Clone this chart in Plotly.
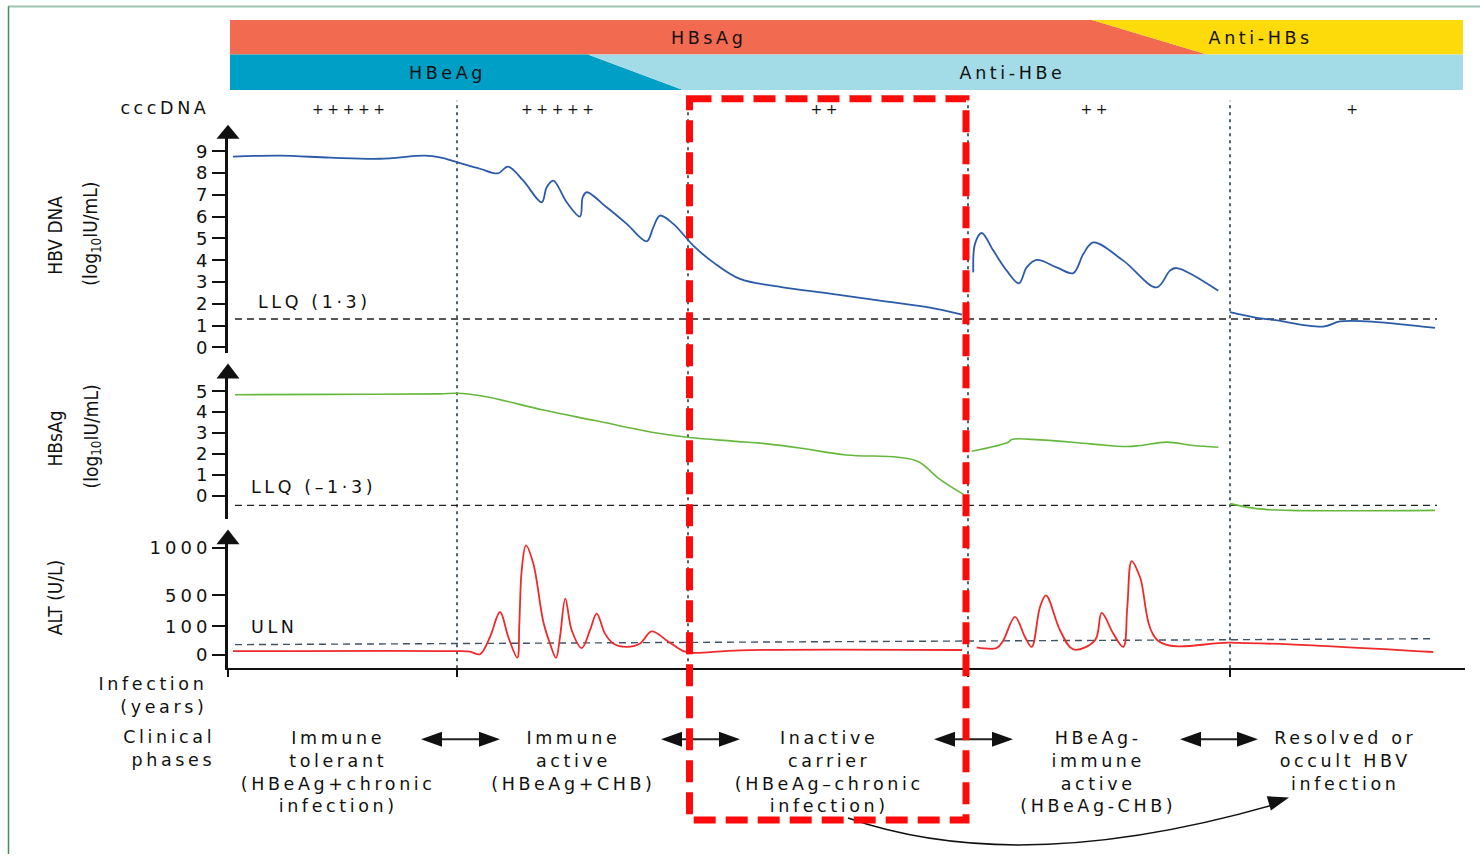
import numpy as np
import plotly.graph_objects as go

W, H = 1480, 859

# ---------------- data ----------------
# time runs in arbitrary units since infection
phase_bounds = [229, 460, 740, 1002]
x_tick_vals = [0, 229, 460, 740, 1002]
ref_line_t = [7, 1209]

# HBV DNA (log10 IU/mL)
hbv_t_a = [5, 52, 102, 152, 197, 212, 229, 252, 270, 280, 295.3, 313.7, 318.7, 325.3, 338.7, 352,
           354.7, 358.7, 378.7, 398.7, 418.7, 425.3, 432, 445.3, 465.3, 485.3, 512, 552, 602, 652, 702, 734]
hbv_v_a = [8.76, 8.80, 8.71, 8.66, 8.80, 8.72, 8.50, 8.20, 7.99, 8.30, 7.65, 6.66, 7.35, 7.65, 6.66, 6.00,
           6.89, 7.12, 6.43, 5.67, 4.87, 5.51, 6.05, 5.67, 4.67, 3.90, 3.14, 2.78, 2.46, 2.14, 1.82, 1.50]
hbv_t_b = [745.3, 747, 753.7, 765.3, 778.7, 791, 798.7, 808.7, 828.7, 845.3, 855.3, 865.3, 895.3, 928.7, 942, 948.7, 990.3]
hbv_v_b = [3.44, 4.75, 5.25, 4.44, 3.52, 2.94, 3.67, 4.01, 3.67, 3.41, 4.28, 4.82, 3.98, 2.75, 3.52, 3.64, 2.60]
hbv_t_c = [1002, 1028.7, 1045.3, 1095.3, 1112, 1138.7, 1207]
hbv_v_c = [1.61, 1.35, 1.26, 0.95, 1.19, 1.19, 0.89]
hbv_llq = 1.3

# HBsAg (log10 IU/mL)
hbs_t_a = [7, 100, 212, 228.5, 256.8, 315.3, 367, 425.5, 461.7, 504.7, 539.1, 573.6, 618.3, 670, 690.6, 711.3, 735.4]
hbs_v_a = [4.83, 4.85, 4.87, 4.90, 4.75, 4.10, 3.60, 3.03, 2.79, 2.62, 2.49, 2.28, 1.96, 1.85, 1.64, 0.82, 0.08]
hbs_t_b = [743.7, 780.3, 783.7, 812, 862, 898.7, 912, 938.7, 965.3, 990.3]
hbs_v_b = [2.14, 2.57, 2.70, 2.68, 2.49, 2.36, 2.41, 2.57, 2.41, 2.33]
hbs_t_c = [1002, 1028.7, 1062, 1207]
hbs_v_c = [-0.36, -0.60, -0.68, -0.68]
hbs_llq = -0.445

# ALT (U/L)
alt_t_a = [5, 229, 242, 252, 262, 272, 280.3, 289.3, 291.3, 293.7, 298, 305.3, 315.3, 322, 328, 332, 337.3,
           343.7, 353.7, 362, 368.7, 377, 385.3, 398.7, 412, 423.7, 438.7, 455.3, 465.3, 512, 734]
alt_u_a = [12, 12, 10, 1, 62, 284, 62, -11, 119, 764, 1028, 835, 159, 39, -12, 62, 458,
           86, 23, 86, 264, 74, 39, 27, 39, 82, 50, 12, 6, 15, 16]
alt_t_b = [748.7, 768.7, 775.3, 787, 797, 803.7, 812, 818, 832, 845.3, 867, 873.7, 885.3, 895.3, 899.3, 903.7, 912, 930.3, 1002, 1062, 1205.3]
alt_u_b = [25, 23, 50, 220, 62, 27, 349, 500, 86, 18, 50, 272, 74, 27, 349, 862, 693, 48, 42, 36, 9]
uln_t = [7, 1207]
uln_u = [35, 56]

# ALT axis is non-linear: tick values and their display positions
alt_tick_u = [0, 100, 500, 1000]
alt_tick_pos = [0, 1, 2.095, 3.767]

cccdna_labels = ["+++++", "+++++", "++", "++", "+"]
cccdna_x = [350, 559, 825, 1095, 1354]

phase_text = ["Immune<br>tolerant<br>(HBeAg+chronic<br>infection)",
              "Immune<br>active<br>(HBeAg+CHB)",
              "Inactive<br>carrier<br>(HBeAg–chronic<br>infection)",
              "HBeAg-<br>immune<br>active<br>(HBeAg-CHB)",
              "Resolved or<br>occult HBV<br>infection"]
phase_x = [338, 573, 829, 1098, 1345]


def alt_scale(u):
    return np.interp(u, [-100] + alt_tick_u + [2000], [-1] + alt_tick_pos + [7.11])


# ---------------- helpers (page pixels -> paper) ----------------
VK = 1 / 0.9883   # vertical calibration of the photographed page


def X(px):
    return px / W


def Y(py, clamp=True):
    yd = 429.5 + (py - 429.5) * VK
    if clamp:
        yd = min(max(yd, 0.5), H - 0.5)
    return 1 - yd / H


def poly(points):
    s = "M" + " L".join(f"{X(a):.5f},{Y(b):.5f}" for a, b in points)
    return s + " Z"


FONT = "DejaVu Sans"
COND = "DejaVu Sans Condensed, Liberation Sans Narrow, Liberation Sans"
LS = 3.6
TICK_LS = 4
BLUE = "#2b5ba8"
GREEN = "#66b83c"
RED = "#ee2a2a"

fig = go.Figure()


def add_line(t, v, color, yaxis, width=1.8, dash=None, shape="spline"):
    fig.add_trace(go.Scatter(x=t, y=v, mode="lines", xaxis="x", yaxis=yaxis, hoverinfo="skip",
                             line=dict(color=color, width=width, dash=dash, shape=shape, smoothing=1.0),
                             showlegend=False))


add_line(ref_line_t, [hbv_llq, hbv_llq], "#222222", "y", width=1.4, dash="7px,5px", shape="linear")
add_line(ref_line_t, [hbs_llq, hbs_llq], "#222222", "y2", width=1.4, dash="7px,5px", shape="linear")
add_line(uln_t, alt_scale(uln_u), "#3f5366", "y3", width=1.4, dash="7px,5px", shape="linear")

for t, v in [(hbv_t_a, hbv_v_a), (hbv_t_b, hbv_v_b), (hbv_t_c, hbv_v_c)]:
    add_line(t, v, BLUE, "y")
for t, v in [(hbs_t_a, hbs_v_a), (hbs_t_b, hbs_v_b), (hbs_t_c, hbs_v_c)]:
    add_line(t, v, GREEN, "y2", width=1.6)
for t, u in [(alt_t_a, alt_u_a), (alt_t_b, alt_u_b)]:
    add_line(t, alt_scale(u), RED, "y3", width=1.8)

axis_common = dict(showgrid=False, zeroline=False, showline=True, linecolor="#111111", linewidth=3,
                   ticks="outside", ticklen=13, tickwidth=2, tickcolor="#111111",
                   tickfont=dict(family=FONT, size=18, color="#111111"), anchor="x", ticklabelstandoff=0)

fig.update_layout(
    width=W, height=H, margin=dict(l=0, r=0, t=0, b=0),
    paper_bgcolor="white", plot_bgcolor="rgba(0,0,0,0)",
    xaxis=dict(domain=[X(228), X(1465)], range=[0, 1237], anchor="y3", showgrid=False, zeroline=False,
               showline=True, linecolor="#111111", linewidth=2, ticks="outside", ticklen=7, tickwidth=2,
               tickcolor="#111111", tickvals=x_tick_vals, showticklabels=False),
    yaxis=dict(domain=[Y(352), Y(137)], range=[-0.243, 9.62], tickvals=list(range(10)), **axis_common),
    yaxis2=dict(domain=[Y(519), Y(377)], range=[-1.112, 5.65], tickvals=list(range(6)), **axis_common),
    yaxis3=dict(domain=[Y(668), Y(543)], range=[-0.484, 3.93], tickvals=alt_tick_pos,
                ticktext=[str(u) for u in alt_tick_u], **axis_common),
)

shapes = []
# frame
shapes.append(dict(type="line", xref="paper", yref="paper", x0=X(8), x1=1, y0=Y(3.5), y1=Y(3.5),
                   line=dict(color="#9cc4b0", width=2)))
shapes.append(dict(type="line", xref="paper", yref="paper", x0=X(8.5), x1=X(8.5), y0=Y(3.5), y1=0,
                   line=dict(color="#3f8f63", width=1.5)))
# serology bands
shapes.append(dict(type="path", xref="paper", yref="paper", path=poly([(230, 19), (1092, 19), (1207, 53.5), (230, 53.5)]),
                   fillcolor="#f26a50", line=dict(width=0), layer="below"))
shapes.append(dict(type="path", xref="paper", yref="paper", path=poly([(1092, 19), (1463, 19), (1463, 53.5), (1207, 53.5)]),
                   fillcolor="#fddb0a", line=dict(width=0), layer="below"))
shapes.append(dict(type="path", xref="paper", yref="paper", path=poly([(230, 53.5), (588, 53.5), (683, 89), (230, 89)]),
                   fillcolor="#009fc6", line=dict(width=0), layer="below"))
shapes.append(dict(type="path", xref="paper", yref="paper", path=poly([(588, 53.5), (1463, 53.5), (1463, 89), (683, 89)]),
                   fillcolor="#a3dce7", line=dict(width=0), layer="below"))
# phase boundaries
for b in phase_bounds:
    shapes.append(dict(type="line", xref="x", yref="paper", x0=b, x1=b, y0=Y(668), y1=Y(100),
                       line=dict(color="#4f6470", width=2, dash="3px,4px"), layer="below"))
# y-axis arrowheads
for tip, base in [(124, 138), (363, 378), (529, 544)]:
    shapes.append(dict(type="path", xref="paper", yref="paper",
                       path=poly([(228, tip), (216.5, base), (239.5, base)]),
                       fillcolor="#111111", line=dict(width=0)))
# double arrows between phases
for x1, x2 in [(421, 500), (661, 740), (934, 1013), (1180, 1258)]:
    yy = 739
    shapes.append(dict(type="line", xref="paper", yref="paper", x0=X(x1 + 15), x1=X(x2 - 15), y0=Y(yy), y1=Y(yy),
                       line=dict(color="#222222", width=2)))
    shapes.append(dict(type="path", xref="paper", yref="paper", path=poly([(x1, yy), (x1 + 21, yy - 7.5), (x1 + 21, yy + 7.5)]),
                       fillcolor="#111111", line=dict(width=0)))
    shapes.append(dict(type="path", xref="paper", yref="paper", path=poly([(x2, yy), (x2 - 21, yy - 7.5), (x2 - 21, yy + 7.5)]),
                       fillcolor="#111111", line=dict(width=0)))
# curved arrow inactive carrier -> resolved
p0, c, p1 = (848, 818), (1020, 878), (1276, 804)
shapes.append(dict(type="path", xref="paper", yref="paper",
                   path=f"M{X(p0[0])},{Y(p0[1], False)} Q{X(c[0])},{Y(c[1], False)} {X(p1[0])},{Y(p1[1], False)}",
                   line=dict(color="#111111", width=1.5)))
d = np.array([p1[0] - c[0], p1[1] - c[1]], float)
d /= np.linalg.norm(d)
nrm = np.array([-d[1], d[0]])
tip = np.array([1289.0, 797.5])
base = tip - 21 * d
shapes.append(dict(type="path", xref="paper", yref="paper",
                   path=poly([tuple(tip), tuple(base + 7.5 * nrm), tuple(base - 7.5 * nrm)]),
                   fillcolor="#111111", line=dict(width=0)))
# highlighted phase box
shapes.append(dict(type="rect", xref="paper", yref="paper", x0=X(689.5), x1=X(966), y0=Y(98), y1=Y(820),
                   line=dict(color="#ff0a0a", width=7, dash="22px,10px"), fillcolor="rgba(0,0,0,0)"))
fig.update_layout(shapes=shapes)

ann = []


def text(x, y, s, size=17.5, xanchor="center", yanchor="middle", family=FONT, angle=0):
    align = xanchor if xanchor in ("left", "right") else "center"
    if xanchor == "right" and family == FONT:
        x += LS  # compensate trailing letter spacing
    ann.append(dict(xref="paper", yref="paper", x=X(x), y=Y(y), text=s, showarrow=False, xanchor=xanchor,
                    yanchor=yanchor, textangle=angle, align=align,
                    font=dict(family=family, size=size, color="#111111")))


text(708, 37, "HBsAg")
text(1260, 37, "Anti-HBs")
text(447, 72, "HBeAg")
text(1013, 72, "Anti-HBe")
text(207, 107, "cccDNA", xanchor="right")
for s, x in zip(cccdna_labels, cccdna_x):
    text(x, 108, s, size=14)
text(256, 301, "LLQ (1·3)", xanchor="left")
text(249, 487, "LLQ (–1·3)", xanchor="left")
text(249, 627, "ULN", xanchor="left")
text(205, 695, "Infection<br>(years)", xanchor="right")
text(213, 748, "Clinical<br>phases", xanchor="right")
for s, x in zip(phase_text, phase_x):
    text(x, 726, s, yanchor="top")
# axis titles (rotated, condensed)
text(55, 235, "HBV DNA", size=19, family=COND, angle=-90)
text(92, 233, "(log<sub>10</sub>IU/mL)", size=19, family=COND, angle=-90)
text(55, 438, "HBsAg", size=19, family=COND, angle=-90)
text(92, 436, "(log<sub>10</sub>IU/mL)", size=19, family=COND, angle=-90)
text(55, 597, "ALT (U/L)", size=19, family=COND, angle=-90)
fig.update_layout(annotations=ann)

post = """
var gd=document.getElementById('{plot_id}');
document.documentElement.style.margin='0';
document.documentElement.style.overflow='hidden';
document.body.style.margin='0';
document.body.style.overflow='hidden';
gd.style.position='fixed'; gd.style.left='0px'; gd.style.top='0px';
gd.querySelectorAll('.annotation-text').forEach(function(t){
  if ((t.style.fontFamily||'').indexOf('Condensed')<0) { t.style.letterSpacing='%LS%px'; }
});
gd.querySelectorAll('.yaxislayer-above text').forEach(function(t){
  t.style.letterSpacing='%TLS%px'; t.setAttribute('dx','3');
});
""".replace("%LS%", str(LS)).replace("%TLS%", str(TICK_LS))
fig.write_html("out.html", post_script=post, config={"displayModeBar": False})
